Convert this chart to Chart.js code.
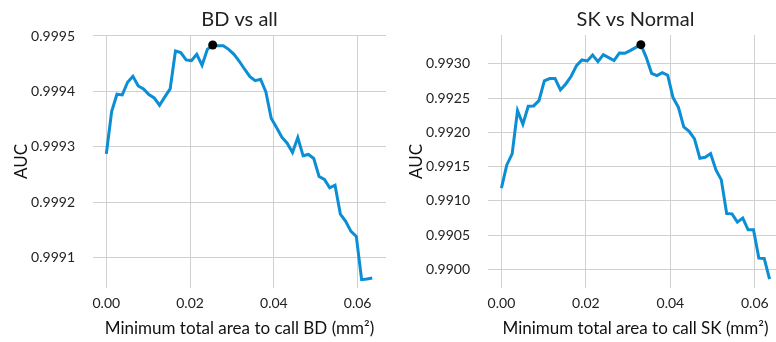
<!DOCTYPE html>
<html>
<head>
<meta charset="utf-8">
<script src="https://cdn.jsdelivr.net/npm/chart.js@4.4.1/dist/chart.umd.min.js"></script>
<style>
  html, body { margin: 0; padding: 0; background: #fff; overflow: hidden; }
  body { width: 776px; height: 342px; position: relative; }
  .panel { position: absolute; top: 0; }
  #bdPanel { left: 0; }
  #skPanel { left: 400px; }
</style>
</head>
<body>
<div class="panel" id="bdPanel"><canvas id="bdChart" width="400" height="342"></canvas></div>
<div class="panel" id="skPanel"><canvas id="skChart" width="400" height="342"></canvas></div>
<script>
// threshold on total area (mm^2), shared by both panels
var areaThresholds = [
  0, 0.00127, 0.00254, 0.00381, 0.00508, 0.00635, 0.00762, 0.00889, 0.01016, 0.01143,
  0.0127, 0.01397, 0.01524, 0.01651, 0.01778, 0.01905, 0.02032, 0.02159, 0.02286, 0.02413,
  0.0254, 0.02667, 0.02794, 0.02921, 0.03048, 0.03175, 0.03302, 0.03429, 0.03556, 0.03683,
  0.0381, 0.03937, 0.04064, 0.04191, 0.04318, 0.04445, 0.04572, 0.04699, 0.04826, 0.04953,
  0.0508, 0.05207, 0.05334, 0.05461, 0.05588, 0.05715, 0.05842, 0.05969, 0.06096, 0.06223,
  0.0635
];

// AUC, BD vs all
var bdAuc = [
  0.9992874, 0.9993637, 0.9993949, 0.9993937, 0.9994165, 0.9994273, 0.9994099, 0.9994045, 0.9993943, 0.9993883,
  0.9993751, 0.9993901, 0.9994045, 0.9994730, 0.9994700, 0.9994568, 0.9994556, 0.9994670, 0.9994471, 0.9994760,
  0.9994838, 0.9994826, 0.9994826, 0.9994760, 0.9994670, 0.9994544, 0.9994400, 0.9994267, 0.9994195, 0.9994219,
  0.9993991, 0.9993517, 0.9993348, 0.9993174, 0.9993066, 0.9992898, 0.9993168, 0.9992838, 0.9992862, 0.9992790,
  0.9992465, 0.9992411, 0.9992261, 0.9992309, 0.9991787, 0.9991655, 0.9991474, 0.9991384, 0.9990604, 0.9990616,
  0.9990634
];

// AUC, SK vs Normal
var skAuc = [
  0.991186, 0.991526, 0.991687, 0.992319, 0.992120, 0.992382, 0.992387, 0.992465, 0.992752, 0.992786,
  0.992786, 0.992621, 0.992708, 0.992820, 0.992976, 0.993058, 0.993044, 0.993131, 0.993034, 0.993136,
  0.993092, 0.993049, 0.993161, 0.993156, 0.993195, 0.993238, 0.993282, 0.993097, 0.992864, 0.992830,
  0.992874, 0.992835, 0.992509, 0.992368, 0.992081, 0.992017, 0.991906, 0.991623, 0.991638, 0.991692,
  0.991453, 0.991307, 0.990816, 0.990811, 0.990690, 0.990748, 0.990578, 0.990578, 0.990164, 0.990160,
  0.989858
];

var xTicks = [0, 0.02, 0.04, 0.06];
var bdYTicks = [0.9991, 0.9992, 0.9993, 0.9994, 0.9995];
var skYTicks = [0.9900, 0.9905, 0.9910, 0.9915, 0.9920, 0.9925, 0.9930];

var FONT = 'Lato, "Open Sans", sans-serif';
var LINE_COLOR = '#0b8ed4';
var GRID_COLOR = '#d0d0d0';

function makeChart(id, cfg) {
  var points = areaThresholds.map(function (x, i) { return { x: x, y: cfg.values[i] }; });
  // mark the best threshold
  var best = 0;
  for (var i = 1; i < cfg.values.length; i++) {
    if (cfg.values[i] > cfg.values[best]) best = i;
  }

  return new Chart(document.getElementById(id), {
    type: 'line',
    data: {
      datasets: [{
        data: [points[best]],
        showLine: false,
        pointRadius: 4.5,
        pointBackgroundColor: '#000',
        pointBorderWidth: 0
      }, {
        data: points,
        borderColor: LINE_COLOR,
        borderWidth: 3,
        pointRadius: 0,
        tension: 0,
        fill: false
      }]
    },
    options: {
      responsive: false,
      animation: false,
      events: [],
      layout: { padding: { left: 0, right: cfg.padRight, top: 0, bottom: 0 } },
      plugins: {
        legend: { display: false },
        tooltip: { enabled: false },
        title: {
          display: true,
          text: cfg.title,
          fullSize: false,
          color: '#222',
          font: { family: FONT, size: 20, weight: 'normal' },
          padding: { top: 8, bottom: 3 }
        }
      },
      scales: {
        x: {
          type: 'linear',
          min: cfg.xMin,
          max: cfg.xMax,
          afterBuildTicks: function (scale) {
            scale.ticks = xTicks.map(function (v) { return { value: v }; });
          },
          afterFit: function (scale) { scale.height = 54; },
          ticks: {
            color: '#222',
            padding: 7,
            font: { family: FONT, size: 14 },
            callback: function (v) { return v.toFixed(2); }
          },
          grid: { color: GRID_COLOR, lineWidth: 1, drawTicks: false },
          border: { display: false },
          title: {
            display: true,
            text: cfg.xLabel,
            color: '#111',
            font: { family: FONT, size: 17 },
            padding: { top: 0, bottom: 3 }
          }
        },
        y: {
          type: 'linear',
          min: cfg.yMin,
          max: cfg.yMax,
          afterBuildTicks: function (scale) {
            scale.ticks = cfg.yTicks.map(function (v) { return { value: v }; });
          },
          afterFit: function (scale) { scale.width = cfg.yWidth; },
          ticks: {
            color: '#222',
            padding: 18,
            font: { family: FONT, size: 14 },
            callback: function (v) { return v.toFixed(4); }
          },
          grid: { color: GRID_COLOR, lineWidth: 1, drawTicks: false },
          border: { display: false },
          title: {
            display: true,
            text: 'AUC',
            color: '#111',
            font: { family: FONT, size: 17 },
            padding: { top: cfg.yTitlePad, bottom: 0 }
          }
        }
      }
    }
  });
}

makeChart('bdChart', {
  title: 'BD vs all',
  xLabel: 'Minimum total area to call BD (mm\u00b2)',
  values: bdAuc,
  yTicks: bdYTicks,
  xMin: -0.00318, xMax: 0.06678,
  yMin: 0.9990453, yMax: 0.9995018,
  yWidth: 93, padRight: 14, yTitlePad: 11
});

makeChart('skChart', {
  title: 'SK vs Normal',
  xLabel: 'Minimum total area to call SK (mm\u00b2)',
  values: skAuc,
  yTicks: skYTicks,
  xMin: -0.00318, xMax: 0.06668,
  yMin: 0.989728, yMax: 0.993423,
  yWidth: 88, padRight: 17, yTitlePad: 6
});
</script>
</body>
</html>
